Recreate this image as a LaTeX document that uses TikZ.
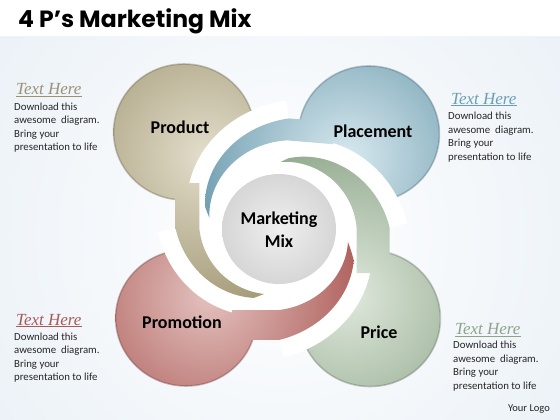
\documentclass[tikz,border=0pt]{standalone}
\usepackage{fontspec}
\setmainfont{Carlito}
\newfontfamily\titlefont{Poppins}
\newfontfamily\hdrfont{Liberation Serif}
\definecolor{olvO}{HTML}{A59C79}\definecolor{olvI}{HTML}{E3DECC}
\definecolor{bluO}{HTML}{73A0B2}\definecolor{bluI}{HTML}{D8E9EF}
\definecolor{grnO}{HTML}{96AD92}\definecolor{grnI}{HTML}{DFE8DC}
\definecolor{redO}{HTML}{B0635F}\definecolor{redI}{HTML}{E3C1BE}
\definecolor{gryI}{HTML}{EFEFEF}\definecolor{gryO}{HTML}{D6D6D6}
\definecolor{bgblue}{HTML}{DCE7F1}
\definecolor{hOlv}{HTML}{9B9275}\definecolor{hBlu}{HTML}{6A9FB2}
\definecolor{hRed}{HTML}{A65B57}\definecolor{hGrn}{HTML}{8DA489}
\def\Cx{279}\def\Cy{228}\def\XS{1.035}
\newcommand\rIn[2]{(66+(#2-66)*(#1))}
\newcommand\rOut[2]{(67+(#2-67)*(#1))}
\newcommand\PX[2]{\Cx+\XS*#1*cos(#2)}
\newcommand\PY[2]{\Cy-#1*sin(#2)}
% #1 tip, #2 span, #3 Ri, #4 Ro, #5 path command
\newcommand\tailpath[5]{#5 plot[domain=0:1,samples=50,variable=\s] ({\PX{\rOut{\s}{#4}}{#1-#2*\s}},{\PY{\rOut{\s}{#4}}{#1-#2*\s}})
 -- ({\PX{#4}{#1-#2}+46.6*sin(#1-#2)},{\PY{#4}{#1-#2}+45*cos(#1-#2)})
 -- ({\PX{#3}{#1-#2}+46.6*sin(#1-#2)},{\PY{#3}{#1-#2}+45*cos(#1-#2)})
 -- plot[domain=0:1,samples=50,variable=\s] ({\PX{\rIn{1-\s}{#3}}{#1-#2*(1-\s)}},{\PY{\rIn{1-\s}{#3}}{#1-#2*(1-\s)}}) -- cycle;}
\newcommand\innerwhite[3]{\fill[white] (\Cx,\Cy) -- plot[domain=0:1,samples=50,variable=\s] ({\PX{\rIn{\s}{#3}}{#1-#2*\s}},{\PY{\rIn{\s}{#3}}{#1-#2*\s}}) -- cycle;}
\newcommand\outerstroke[3]{\draw[white,line width=36] plot[domain=0:1,samples=50,variable=\s] ({\PX{\rOut{\s}{#3}}{#1-#2*\s}},{\PY{\rOut{\s}{#3}}{#1-#2*\s}});}
\newcommand\petalshade[6]{\shade[inner color=#5,outer color=#6] (#3,#4) circle[radius=150];}
\newcommand\petal[6]{\begin{scope}\clip (#1,#2) ellipse[x radius=70.4,y radius=68];\petalshade{#1}{#2}{#3}{#4}{#5}{#6}\end{scope}}
\tikzset{
  lbl/.style={font=\bfseries\fontsize{18}{22}\selectfont, text=black},
  hdr/.style={font=\hdrfont\itshape\fontsize{17}{20}\selectfont, anchor=base west, inner sep=0},
  body/.style={font=\fontsize{10.8}{13.5}\selectfont, anchor=north west, align=left, inner sep=0, text=black!85},
  rim/.style={line width=1.6, opacity=.35}
}
\begin{document}
\begin{tikzpicture}[x=1pt,y=-1pt]
\useasboundingbox (0,0) rectangle (560,420);
% background
\fill[white] (0,0) rectangle (560,420);
\begin{scope}
  \clip (0,37) rectangle (560,420);
  \shade[inner color=white, outer color=bgblue] (280,235) circle[radius=620];
\end{scope}
% petal circles
\petal{184}{132}{205}{156}{olvI}{olvO}
\petal{369}{134}{347}{158}{bluI}{bluO}
\petal{186}{318}{208}{296}{redI}{redO}
\petal{370}{318.5}{348}{296}{grnI}{grnO}
\draw[rim, olvO!60!black] (184,132) ellipse[x radius=70.4,y radius=68];
\draw[rim, bluO!60!black] (369,134) ellipse[x radius=70.4,y radius=68];
\draw[rim, redO!60!black] (186,318) ellipse[x radius=70.4,y radius=68];
\draw[rim, grnO!60!black] (370,318.5) ellipse[x radius=70.4,y radius=68];
% white gaps
\innerwhite{270}{90}{77}
\innerwhite{180}{95}{88}
\innerwhite{90}{90}{75}
\innerwhite{360}{90}{82}
\outerstroke{270}{90}{100}
\outerstroke{180}{95}{110}
\outerstroke{90}{90}{107}
\outerstroke{360}{90}{112}
% tails (shaded like their circles)
\begin{scope}\tailpath{270}{90}{77}{100}{\clip}\petalshade{184}{132}{205}{156}{olvI}{olvO}\end{scope}
\begin{scope}\tailpath{180}{95}{88}{110}{\clip}\petalshade{369}{134}{347}{158}{bluI}{bluO}\end{scope}
\begin{scope}\tailpath{90}{90}{75}{107}{\clip}\petalshade{370}{318.5}{348}{296}{grnI}{grnO}\end{scope}
\begin{scope}\tailpath{360}{90}{82}{112}{\clip}\petalshade{186}{318}{208}{296}{redI}{redO}\end{scope}
% centre
\shade[inner color=gryI, outer color=gryO] (279,229) ellipse[x radius=57, y radius=55];
\node[lbl, align=center, font=\bfseries\fontsize{18}{23}\selectfont] (mix) at (279,229.5) {Marketing\\Mix};
\node[lbl] (product) at (180,127) {Product};
\node[lbl] (placement) at (373,131) {Placement};
\node[lbl] (promotion) at (182,322) {Promotion};
\node[lbl] (price) at (379,332) {Price};
% title
\node[anchor=base west, inner sep=0, font=\titlefont\bfseries\fontsize{23.5}{26}\selectfont] (title) at (18,27.5) {4 P’s Marketing Mix};
% side texts
\node[hdr, text=hOlv] (h1) at (16,95) {\underline{Text Here}};
\node[body] (b1) at (14,102.5) {Download this\\awesome\ \ diagram.\\Bring your\\presentation to life};
\node[hdr, text=hBlu] (h2) at (451,104) {\underline{Text Here}};
\node[body] (b2) at (448,112) {Download this\\awesome\ \ diagram.\\Bring your\\presentation to life};
\node[hdr, text=hRed] (h3) at (16,325) {\underline{Text Here}};
\node[body] (b3) at (14,332.5) {Download this\\awesome\ \ diagram.\\Bring your\\presentation to life};
\node[hdr, text=hGrn] (h4) at (455,334.5) {\underline{Text Here}};
\node[body] (b4) at (453,341) {Download this\\awesome\ \ diagram.\\Bring your\\presentation to life};
\node[font=\fontsize{10.5}{12}\selectfont, text=black!85] (logo) at (529,409) {Your Logo};
\end{tikzpicture}
\end{document}
